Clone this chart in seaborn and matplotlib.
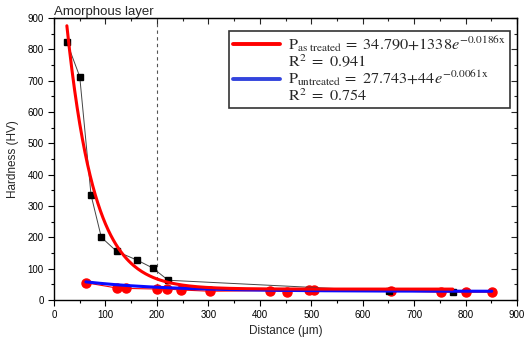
import numpy as np
import pandas as pd
import matplotlib
matplotlib.use("Agg")
import matplotlib.pyplot as plt
import seaborn as sns
from matplotlib.lines import Line2D
from matplotlib.ticker import MultipleLocator

# As-treated measurements (black squares)
treated_x = [25, 50, 72, 92, 122, 162, 192, 222, 652, 775]
treated_y = [823, 713, 335, 200, 155, 127, 102, 63, 28, 27]

# Untreated measurements (red circles)
untreated_x = [62, 123, 140, 200, 220, 247, 303, 420, 453, 495, 505, 655, 752, 801, 851]
untreated_y = [55, 38, 37, 35, 35, 32, 28, 30, 26, 31, 33, 29, 25, 25, 25]

# Fit parameters
fit_treated = (34.790, 1338, 0.0186)
fit_untreated = (27.743, 44, 0.0061)
fit_treated_range = (25, 775)
fit_untreated_range = (62, 851)

sns.set_style("ticks")
plt.rcParams['font.family'] = ['Liberation Sans', 'DejaVu Sans']
plt.rcParams['mathtext.fontset'] = 'stix'

fig = plt.figure(figsize=(5.26, 3.43), dpi=100)
ax = fig.add_axes([54/526, 1-300/343, (517-54)/526, (300-18)/343])

xt = np.linspace(*fit_treated_range, 300)
yt = fit_treated[0] + fit_treated[1]*np.exp(-fit_treated[2]*xt)
xu = np.linspace(*fit_untreated_range, 300)
yu = fit_untreated[0] + fit_untreated[1]*np.exp(-fit_untreated[2]*xu)

ax.axvline(200, color='#555555', ls=(0, (3, 3)), lw=0.8, zorder=1)

df_t = pd.DataFrame({'x': treated_x, 'y': treated_y})
df_u = pd.DataFrame({'x': untreated_x, 'y': untreated_y})

sns.lineplot(data=df_u, x='x', y='y', ax=ax, color='red', lw=0.8, sort=False, zorder=2)
ax.plot(untreated_x, untreated_y, 'o', color='red', ms=6.5, zorder=3)
sns.lineplot(data=df_t, x='x', y='y', ax=ax, color='#444444', lw=0.7, sort=False, zorder=4)
ax.plot(treated_x, treated_y, 's', color='black', ms=5, zorder=5)
sns.lineplot(x=xu, y=yu, ax=ax, color='#0a0aff', lw=2.2, zorder=6)
sns.lineplot(x=xt, y=yt, ax=ax, color='red', lw=2.2, zorder=7)

ax.set_xlim(0, 900)
ax.set_ylim(0, 900)
ax.xaxis.set_major_locator(MultipleLocator(100))
ax.xaxis.set_minor_locator(MultipleLocator(50))
ax.yaxis.set_major_locator(MultipleLocator(100))
ax.yaxis.set_minor_locator(MultipleLocator(50))
ax.tick_params(which='both', direction='out', top=False, right=False, labelsize=7, width=0.8, colors='black')
ax.tick_params(which='major', length=4)
ax.tick_params(which='minor', length=2.5)
for s in ax.spines.values():
    s.set_linewidth(1.0)
    s.set_color('black')
# inward ticks on top and right
axt = ax.secondary_xaxis('top')
axt.xaxis.set_major_locator(MultipleLocator(100))
axt.xaxis.set_minor_locator(MultipleLocator(50))
axt.tick_params(which='both', direction='in', labeltop=False, width=0.8)
axt.tick_params(which='major', length=4)
axt.tick_params(which='minor', length=2.5)
axr = ax.secondary_yaxis('right')
axr.yaxis.set_major_locator(MultipleLocator(100))
axr.yaxis.set_minor_locator(MultipleLocator(50))
axr.tick_params(which='both', direction='in', labelright=False, width=0.8)
axr.tick_params(which='major', length=4)
axr.tick_params(which='minor', length=2.5)

ax.set_xlabel('Distance (μm)', fontsize=8.5, labelpad=3)
ax.set_ylabel('Hardness (HV)', fontsize=8.5, labelpad=6)
ax.text(0, 1.0, 'Amorphous layer', transform=ax.transAxes, fontsize=9.5,
        ha='left', va='bottom')

lab1 = r'$\mathrm{P}_{\mathrm{as\ treated}}\,\mathrm{=\ 34.790{+}1338}\mathit{e}^{\mathrm{-0.0186x}}$'
lab2 = r'$\mathrm{R}^{2}\mathrm{\ =\ 0.941}$'
lab3 = r'$\mathrm{P}_{\mathrm{untreated}}\,\mathrm{=\ 27.743{+}44}\mathit{e}^{\mathrm{-0.0061x}}$'
lab4 = r'$\mathrm{R}^{2}\mathrm{\ =\ 0.754}$'
blank = Line2D([], [], color='none')
handles = [Line2D([], [], color='red', lw=2.8), blank,
           Line2D([], [], color='#3344dd', lw=2.8), blank]
leg = ax.legend(handles, [lab1, lab2, lab3, lab4], loc='upper right',
                bbox_to_anchor=(0.985, 0.955), fontsize=11.7, frameon=True,
                fancybox=False, edgecolor='black', handlelength=2.9,
                handletextpad=0.5, labelspacing=-0.08, borderpad=0.25,
                borderaxespad=0)
leg.get_frame().set_linewidth(1.2)

fig.savefig('out.png', dpi=100)
